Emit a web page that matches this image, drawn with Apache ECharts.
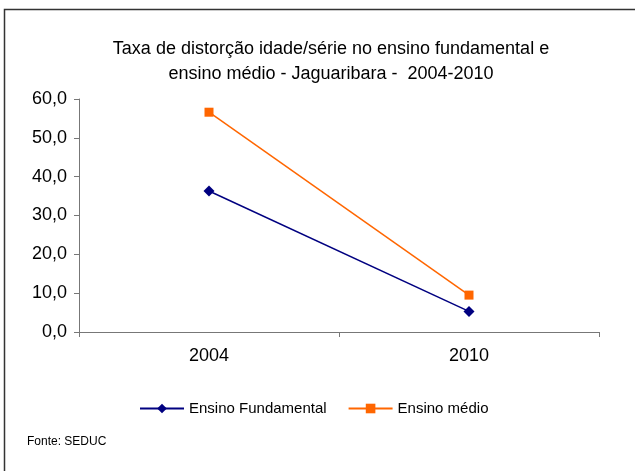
<!DOCTYPE html>
<html>
<head>
<meta charset="utf-8">
<script src="https://cdn.jsdelivr.net/npm/echarts@6/dist/echarts.min.js"></script>
<style>
  html, body { margin: 0; padding: 0; background: #fff; }
  #chart { width: 635px; height: 471px; }
</style>
</head>
<body>
<div id="chart"></div>
<script>
const categories = ["2004", "2010"];
const fundamental = [36.3, 5.3];
const medio = [56.6, 9.5];
const seriesNames = ["Ensino Fundamental", "Ensino médio"];
const titleLines = ["Taxa de distorção idade/série no ensino fundamental e", "ensino médio - Jaguaribara -  2004-2010"];
const sourceText = "Fonte: SEDUC";

const chart = echarts.init(document.getElementById("chart"));
const font = "Liberation Sans, Arial, sans-serif";

chart.setOption({
  animation: false,
  title: {
    text: titleLines.join("\n"),
    left: 326,
    textAlign: "center",
    top: 32,
    textStyle: { fontFamily: font, fontSize: 18, fontWeight: "normal", color: "#000", lineHeight: 25 }
  },
  graphic: [
    {
      type: "rect",
      shape: { x: 4.5, y: 9.5, width: 700, height: 600 },
      style: { fill: "none", stroke: "#333", lineWidth: 1.5 },
      silent: true
    },
    {
      type: "text",
      left: 27,
      top: 436,
      style: { text: sourceText, font: "12px " + font, fill: "#000" }
    }
  ],
  legend: {
    data: seriesNames,
    left: 134,
    top: 396,
    itemWidth: 44,
    itemHeight: 12,
    itemGap: 21,
    textStyle: { fontFamily: font, fontSize: 15, color: "#000" }
  },
  grid: { left: 79, right: 36, top: 99, bottom: 139 },
  xAxis: {
    type: "category",
    data: categories,
    boundaryGap: true,
    axisLine: { lineStyle: { color: "#777", width: 1 } },
    axisTick: { show: true, length: 5, lineStyle: { color: "#777" } },
    axisLabel: { fontFamily: font, fontSize: 18, color: "#000", margin: 15 }
  },
  yAxis: {
    type: "value",
    min: 0,
    max: 60,
    interval: 10,
    splitLine: { show: false },
    axisLine: { show: true, lineStyle: { color: "#777", width: 1 } },
    axisTick: { show: true, length: 5, lineStyle: { color: "#777" } },
    axisLabel: {
      fontFamily: font, fontSize: 18, color: "#000", margin: 12,
      formatter: v => v.toFixed(1).replace(".", ",")
    }
  },
  series: [
    {
      name: seriesNames[0],
      type: "line",
      data: fundamental,
      symbol: "diamond",
      symbolSize: 11,
      lineStyle: { color: "#000080", width: 1.5 },
      itemStyle: { color: "#000080" }
    },
    {
      name: seriesNames[1],
      type: "line",
      data: medio,
      symbol: "rect",
      symbolSize: 9,
      lineStyle: { color: "#FF6600", width: 1.5 },
      itemStyle: { color: "#FF6600" }
    }
  ]
});
</script>
</body>
</html>
